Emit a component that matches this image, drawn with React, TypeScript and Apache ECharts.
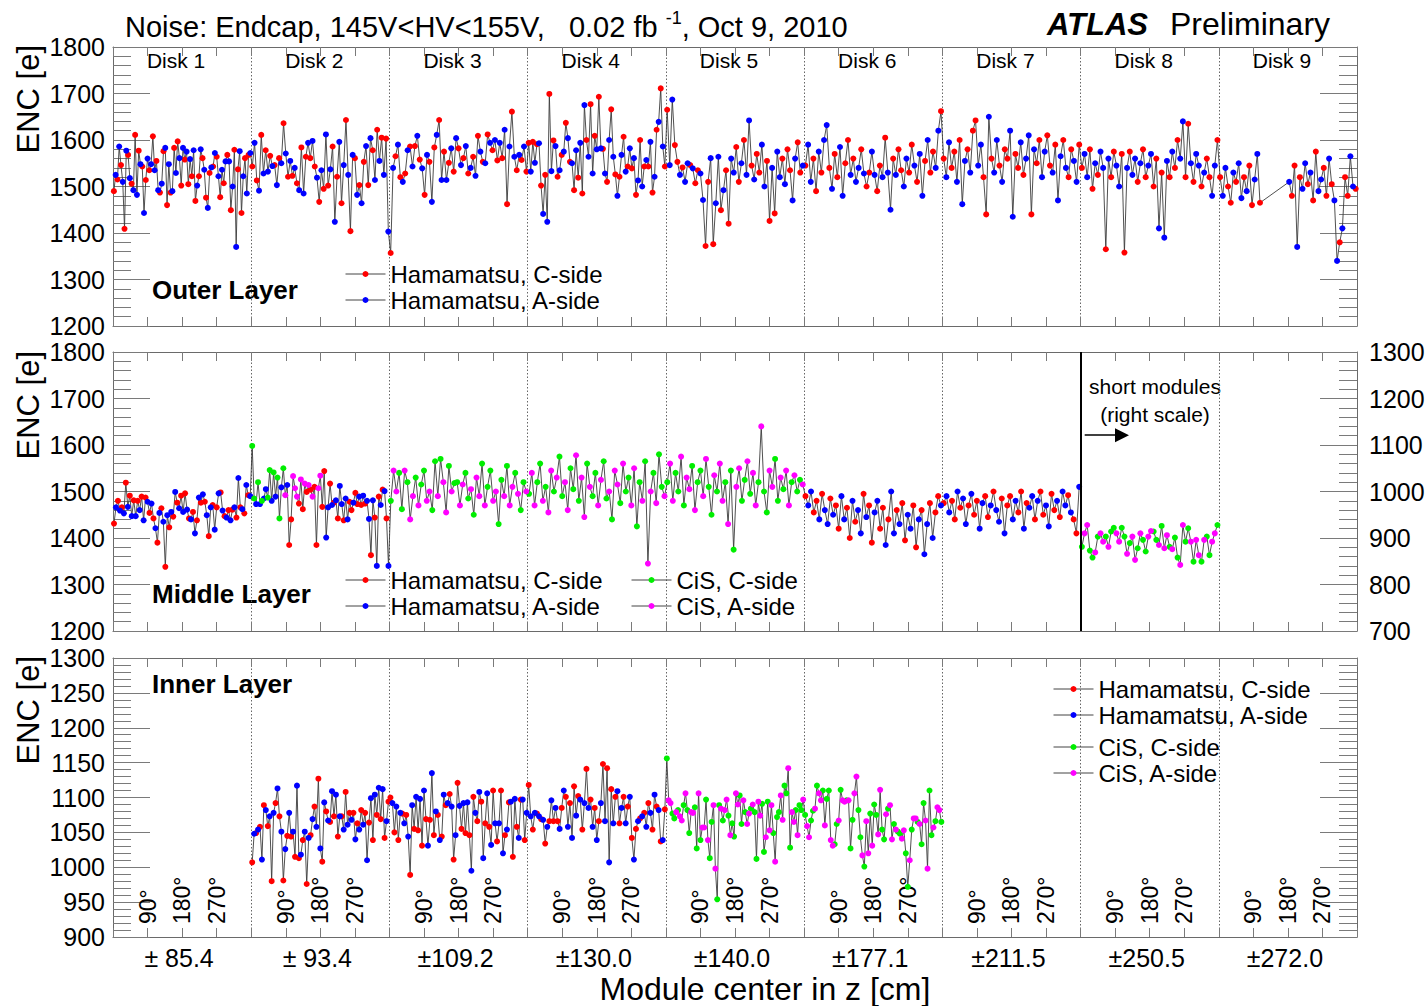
import React, { useEffect, useRef } from "react";
import * as echarts from "echarts";

const FONT = '"Liberation Sans", Arial, Helvetica, sans-serif';

// ---------- labels ----------
const diskNames = ["Disk 1", "Disk 2", "Disk 3", "Disk 4", "Disk 5", "Disk 6", "Disk 7", "Disk 8", "Disk 9"];
const zLabels = ["± 85.4", "± 93.4", "±109.2", "±130.0", "±140.0", "±177.1", "±211.5", "±250.5", "±272.0"];
const angleLabels = ["90°", "180°", "270°"];
const seriesNames: Record<string, string> = {
  r: "Hamamatsu, C-side",
  b: "Hamamatsu, A-side",
  g: "CiS, C-side",
  m: "CiS, A-side",
};

// ---------- Outer layer (ENC, left scale) ----------
const outerDisk1 = [1490,1525,1515,1586,1546,1510,1409,1577,1568,1518,1506,1492,1611,1482,1577,1548,1543,1443,1514,1560,1535,1548,1608,1535,1555,1492,1487,1506,1576,1583,1460,1548,1487,1490,1583,1529,1597,1561,1502,1583,1558,1575,1505,1559,1522,1578,1469,1502,1522,1580,1561,1536,1476,1454,1529,1541,1543,1572,1564,1522,1477,1536,1507,1554,1568,1554,1449,1500,1579,1370,1537,1576,1443,1522,1561,1485,1568,1572];
const outerDisk2 = [1543,1594,1513,1491,1611,1528,1578,1532,1566,1544,1546,1503,1561,1550,1636,1571,1521,1555,1523,1540,1507,1492,1584,1485,1564,1594,1561,1598,1543,1519,1467,1535,1495,1612,1502,1537,1586,1424,1521,1596,1464,1546,1643,1525,1404,1568,1561,1482,1503,1464,1553,1587,1503,1604,1578,1514,1622,1555,1605,1525,1603,1403];
const outerDisk3 = [1357,1540,1565,1590,1520,1510,1528,1578,1586,1543,1587,1609,1558,1539,1482,1568,1553,1467,1584,1611,1643,1514,1575,1514,1551,1582,1532,1604,1582,1546,1561,1587,1528,1540,1564,1523,1609,1575,1553,1550,1612,1594,1578,1600,1556,1594,1561,1622,1462,1586,1661,1564,1535,1568,1557,1586,1532];
const outerDisk4 = [1594,1532,1596,1551,1591,1593,1502,1441,1525,1424,1699,1533,1599,1587,1521,1535,1568,1575,1637,1604,1553,1550,1492,1578,1519,1594,1485,1675,1600,1564,1677,1528,1609,1580,1693,1582,1581,1528,1510,1600,1666,1564,1526,1480,1521,1568,1607,1532,1543,1582,1539,1561,1482,1513,1600,1500,1543,1557,1543,1596,1487,1521,1622,1639,1711,1586,1543];
const outerDisk5 = [1665,1546,1687,1589,1553,1525,1541,1510,1550,1546,1539,1507,1535,1528,1471,1372,1510,1561,1376,1464,1564,1449,1492,1535,1420,1560,1530,1585,1510,1550,1600,1525,1642,1545,1515,1570,1530,1590,1500,1555,1426,1540,1442,1575,1520,1560,1505,1580,1535,1470,1560,1595,1530,1545];
const outerDisk6 = [1545,1590,1510,1560,1490,1575,1530,1600,1632,1540,1495,1570,1520,1585,1480,1550,1600,1525,1560,1510,1540,1580,1528,1500,1530,1575,1525,1490,1545,1520,1605,1530,1450,1560,1525,1580,1535,1500,1560,1530,1590,1545,1510,1570,1480,1555,1600,1530,1575,1540,1620,1662];
const outerDisk7 = [1560,1520,1595,1540,1575,1510,1600,1462,1555,1580,1530,1620,1642,1545,1590,1520,1440,1650,1560,1530,1600,1545,1510,1580,1560,1620,1435,1570,1540,1595,1525,1560,1610,1440,1580,1550,1600,1520,1575,1610,1545,1530,1590,1470,1565,1600,1540,1520,1580,1555,1510,1590];
const outerDisk8 = [1540,1570,1520,1580,1495,1550,1525,1575,1540,1365,1560,1520,1575,1545,1500,1570,1358,1540,1575,1525,1560,1510,1550,1580,1520,1545,1570,1500,1560,1410,1530,1390,1555,1520,1575,1540,1600,1560,1640,1520,1635,1550,1510,1570,1545,1500,1530,1560,1520,1480,1545,1600];
const outerDisk9 = [1520,1480,1540,1500,1465,1530,1510,1550,1475,1520,1490,1545,1460,1515,1570,1465,null,null,null,null,null,null,null,null,null,null,1510,1480,1545,1370,1520,1495,1550,1505,1530,1470,1575,1490,1515,1540,1480,1560,1505,1470,1340,1380,1410,1520,1480,1565,1500,1495];

// ---------- Middle layer ----------
const middleDisk1 = [1431,1466,1480,1459,1466,1453,1519,1467,1491,1447,1481,1447,1480,1460,1489,1438,1487,1478,1454,1474,1442,1421,1390,1454,1464,1435,1338,1449,1423,1456,1446,1499,1476,1464,1491,1456,1496,1461,1442,1440,1456,1410,1438,1487,1476,1494,1478,1449,1404,1466,1471,1418,1466,1496,1498,1459,1447,1444,1460,1438,1461,1466,1444,1529,1466,1462,1453,1514,1492,1490];
const middleDisk2 = [1598,1485,1473,1520,1473,1480,1485,1505,1487,1546,1480,1541,1489,1530,1442,1509,1550,1492,1514,1385,1440,1533,1507,1489,1474,1526,1462,1517,1499,1514,1504,1489,1510,1385,1507,1534,1467,1544,1401,1466,1517,1471,1476,1481,1442,1512,1473,1438,1485,1440,1478,1460,1476,1497,1473,1489,1471,1491,1474,1480,1441,1363,1481,1444,1340,1489,1471,1504,1501,1442,1340];
const middleDisk2Types = "ggbgbgbbgg" + "bgbggbgmbr" + "rmmmrmrmrm" + "rmrrmmrrbb" + "rbrbrbbrbb" + "rrbrrbrbrb" + "brbrbrbrbrb";
const middleDisk3 = [1480,1545,1500,1540,1462,1545,1520,1440,1490,1530,1470,1515,1545,1480,1500,1460,1565,1490,1570,1520,1455,1555,1500,1518,1520,1470,1515,1540,1485,1505,1450,1530,1490,1560,1470,1510,1545,1480,1500,1430,1525,1490,1555,1470,1510,1540,1495,1460,1520,1500];
const middleDisk4 = [1495,1540,1470,1520,1560,1480,1510,1455,1545,1500,1530,1575,1490,1520,1460,1550,1505,1578,1480,1530,1445,1560,1510,1490,1540,1470,1525,1565,1485,1500,1440,1545,1515,1475,1560,1500,1530,1470,1550,1425,1520,1480,1565,1345,1500,1540,1475,1580,1510,1490];
const middleDisk5 = [1520,1560,1480,1540,1500,1575,1470,1530,1505,1555,1460,1520,1545,1490,1570,1510,1450,1535,1500,1560,1480,1520,1430,1545,1375,1510,1550,1480,1525,1565,1495,1540,1470,1520,1640,1500,1455,1545,1510,1570,1480,1530,1505,1545,1470,1520,1535,1500,1525,1515];
const middleDisk6 = [1490,1470,1500,1455,1480,1440,1495,1460,1430,1485,1450,1470,1420,1490,1440,1465,1400,1480,1435,1460,1410,1495,1445,1470,1390,1455,1480,1420,1465,1385,1440,1500,1410,1460,1430,1475,1395,1450,1420,1470,1380,1440,1460,1365,1430,1475,1400,1455,1490,1470];
const middleDisk7 = [1475,1490,1455,1480,1440,1500,1465,1485,1430,1470,1495,1450,1480,1420,1475,1490,1445,1470,1500,1460,1435,1485,1410,1470,1490,1440,1480,1455,1500,1420,1475,1465,1490,1440,1480,1500,1450,1470,1425,1495,1460,1480,1445,1500,1470,1492,1455,1440,1410,1510];
// short modules, right scale
const middleDisk8Short = [881,910,928,873,858,869,903,910,892,903,881,914,922,910,892,922,903,866,889,903,853,878,910,896,871,903,915,914,896,885,926,878,906,881,876,901,858,842,928,892,921,892,849,896,863,849,896,903,863,892,910,928];

// ---------- Inner layer ----------
const innerDisk2 = [1007,1048,1049,1054,1058,1011,1089,1082,1059,1073,980,1078,1092,1113,1073,1051,981,1026,1045,1078,1044,1051,1015,1117,1013,1018,1039,1051,976,1042,1046,1069,1087,1058,1127,1027,1008,1093,1080,1067,1065,1109,1073,1104,1044,1073,1073,1054,1108,1061,1078,1068,1078,1040,1063,1054,1082,1061,1078,1010,1064,1099,1039,1104,1075,1114,1069,1112,1042,1066,1094];
const innerDisk3 = [1100,1092,1050,1087,1039,1078,1077,1063,1075,1044,989,1089,1055,1101,1053,1098,1031,1110,1069,1031,1068,1135,1046,1080,1075,1039,1044,1104,1089,1092,1105,1087,1011,1046,1121,1088,1055,1092,1049,1093,1046,995,1101,1078,1066,1108,1094,1013,1063,1106,1058,1032,1110,1063,1037,1063,1110,1020,1046,1054,1093,1094,1015,1098,1058,1042,1097,1097,1039,1078];
const innerDisk4 = [1118,1073,1054,1078,1077,1073,1069,1068,1034,1058,1066,1096,1066,1085,1066,1055,1085,1110,1101,1058,1092,1042,1116,1074,1102,1097,1054,1092,1141,1085,1097,1058,1085,1039,1066,1092,1148,1066,1142,1007,1112,1063,1101,1109,1063,1085,1101,1063,1087,1101,1042,1011,1055,1066,1070,1073,1078,1058,1092,1078,1054,1104,1087,1082,1037,1039,1083];
const innerDisk5 = [1156,1096,1092,1077,1070,1079,1082,1073,1067,1089,1106,1082,1049,1079,1078,1086,1027,1106,1039,1057,1057,1097,1039,1013,1065,1089,998,954,1089,1084,1067,1082,1097,1074,1046,1063,1044,1106,1090,1103,1062,1096,1079,1062,1077,1084,1090,1079,1012,1094,1074,1091,1022,1043,1094,1053,1089,1049,1008,1072,1079,1103,1068,1117,1106,1142,1028,1079,1065,1082,1046,1089,1082,1097];
const innerDisk6 = [1075,1059,1043,1067,1081,1084,1117,1106,1096,1110,1060,1098,1110,1039,1031,1033,1062,1067,1111,1096,1094,1096,1096,1027,1068,1106,1130,1082,1043,1017,1001,1066,1020,1077,1031,1090,1075,1047,1111,1054,1040,1076,1084,1089,1040,1062,1054,1051,1048,1041,1053,1020,972,1010,1054,1070,1070,1065,1062,1033,1092,1067,998,1110,1046,1057,1066,1086,1082,1065];

type Segment = { disk: number; types: string; values: (number | null)[] };

// side patterns (C/A order along the ring)
const hamPattern = "rbbrrbrbbrbr";
const cisPattern = "gmmggmgmmgmg";

const outerSegments: Segment[] = [
  { disk: 0, types: "rb", values: outerDisk1 },
  { disk: 1, types: "rb", values: outerDisk2 },
  { disk: 2, types: "rb", values: outerDisk3 },
  { disk: 3, types: "rb", values: outerDisk4 },
  { disk: 4, types: hamPattern, values: outerDisk5 },
  { disk: 5, types: hamPattern, values: outerDisk6 },
  { disk: 6, types: hamPattern, values: outerDisk7 },
  { disk: 7, types: hamPattern, values: outerDisk8 },
  { disk: 8, types: hamPattern, values: outerDisk9 },
];
const middleSegments: Segment[] = [
  { disk: 0, types: "rb", values: middleDisk1 },
  { disk: 1, types: middleDisk2Types, values: middleDisk2 },
  { disk: 2, types: cisPattern, values: middleDisk3 },
  { disk: 3, types: cisPattern, values: middleDisk4 },
  { disk: 4, types: cisPattern, values: middleDisk5 },
  { disk: 5, types: hamPattern, values: middleDisk6 },
  { disk: 6, types: hamPattern, values: middleDisk7 },
];
const middleShortSegments: Segment[] = [{ disk: 7, types: cisPattern, values: middleDisk8Short }];
const innerSegments: Segment[] = [
  { disk: 1, types: "rb", values: innerDisk2 },
  { disk: 2, types: "rb", values: innerDisk3 },
  { disk: 3, types: "rb", values: innerDisk4 },
  { disk: 4, types: cisPattern, values: innerDisk5 },
  { disk: 5, types: cisPattern, values: innerDisk6 },
];

// ---------- styles ----------
const markerColors: Record<string, string> = { r: "#ff0000", b: "#0000ff", g: "#00ee00", m: "#ff00ff" };
const FRAME = "#6a6a6a";
const TICK = "#7a7a7a";

function buildSeries(segments: Segment[], xAxisIndex: number, yAxisIndex: number, extra: any = {}) {
  const pts: { x: number; v: number; t: string }[] = [];
  segments.forEach((seg) => {
    const n = seg.values.length;
    seg.values.forEach((v, i) => {
      if (v === null) return;
      pts.push({ x: seg.disk + (i + 0.5) / n, v, t: seg.types[i % seg.types.length] });
    });
  });
  const line: any = {
    type: "line",
    xAxisIndex,
    yAxisIndex,
    data: pts.map((p) => [p.x, p.v]),
    symbol: "none",
    lineStyle: { color: "#3c3c3c", width: 0.9 },
    z: 2,
    silent: true,
    ...extra,
  };
  const colored = ["r", "b", "g", "m"]
    .filter((t) => pts.some((p) => p.t === t))
    .map((t) => ({
      type: "line",
      name: seriesNames[t],
      xAxisIndex,
      yAxisIndex,
      data: pts.filter((p) => p.t === t).map((p) => [p.x, p.v]),
      symbol: "circle",
      symbolSize: 6,
      showSymbol: true,
      itemStyle: { color: markerColors[t], borderWidth: 0 },
      lineStyle: { opacity: 0, width: 1 },
      z: 3,
      silent: true,
    }));
  return [line, ...colored];
}

const plainNumber = (v: number) => String(v);

function yAxis(gridIndex: number, min: number, max: number, interval: number, position: string, showLabels: boolean, margin = 8) {
  return {
    type: "value",
    gridIndex,
    min,
    max,
    interval,
    position,
    axisLine: { show: true, onZero: false, lineStyle: { color: FRAME, width: 1 } },
    axisTick: { show: true, inside: true, length: 37, lineStyle: { color: TICK, width: 1 } },
    minorTick: { show: true, splitNumber: 5, length: 18, lineStyle: { color: TICK, width: 1 } },
    splitLine: { show: false },
    minorSplitLine: { show: false },
    axisLabel: { show: showLabels, color: "#000", fontSize: 25, fontFamily: FONT, margin, formatter: plainNumber },
  };
}

function xValueAxis(gridIndex: number, position: string, label: any = { show: false }) {
  return {
    type: "value",
    gridIndex,
    min: 0,
    max: 9,
    interval: 0.25,
    position,
    axisLine: { show: true, onZero: false, lineStyle: { color: FRAME, width: 1 } },
    axisTick: { show: true, inside: true, length: 9, lineStyle: { color: TICK, width: 1 } },
    splitLine: { show: false },
    axisLabel: label,
  };
}

function xCategoryAxis(gridIndex: number, position: string, data: string[], label: any) {
  return {
    type: "category",
    gridIndex,
    data,
    position,
    boundaryGap: true,
    axisLine: { show: false, onZero: false },
    axisTick: { show: false },
    splitLine: { show: true, interval: 0, lineStyle: { color: "#666", width: 1, type: [1.5, 2] } },
    axisLabel: label,
  };
}

function ylabelText(y: number) {
  return {
    type: "text",
    x: 28,
    y,
    rotation: Math.PI / 2,
    style: { text: "ENC [e]", fontSize: 31, fontFamily: FONT, fill: "#000", align: "right", verticalAlign: "middle" },
  };
}

function plainText(x: number, y: number, text: string, fontSize: number, extra: any = {}) {
  return {
    type: "text",
    x,
    y,
    style: { text, fontSize, fontFamily: FONT, fill: "#000", align: "left", verticalAlign: "middle", ...extra },
  };
}

const legendBase = {
  orient: "vertical",
  selectedMode: false,
  itemWidth: 40,
  itemHeight: 7.5,
  itemGap: 2,
  padding: 0,
  textStyle: { fontSize: 24, fontFamily: FONT, color: "#000" },
  lineStyle: { color: "#444", width: 1, opacity: 1, type: "solid" },
};

export default function App() {
  const ref = useRef<HTMLDivElement>(null);
  useEffect(() => {
    document.body.style.margin = "0";
    if (!ref.current) return;
    const chart = echarts.init(ref.current, null, { renderer: "svg" });
    const grids = [
      { left: 113, top: 47, width: 1244, height: 279, outerBoundsMode: "none" },
      { left: 113, top: 352, width: 1244, height: 279, outerBoundsMode: "none" },
      { left: 113, top: 658, width: 1244, height: 279, outerBoundsMode: "none" },
    ];
    const xAxes = [
      xValueAxis(0, "bottom"),
      xValueAxis(0, "top"),
      xCategoryAxis(0, "top", diskNames, {
        show: true,
        inside: true,
        interval: 0,
        margin: 3,
        fontSize: 21,
        fontFamily: FONT,
        color: "#000",
        padding: [0, 12, 0, 0],
      }),
      xValueAxis(1, "bottom"),
      xValueAxis(1, "top"),
      xCategoryAxis(1, "top", diskNames, { show: false }),
      xValueAxis(2, "bottom", {
        show: true,
        inside: true,
        rotate: 90,
        margin: 13,
        fontSize: 23,
        fontFamily: FONT,
        color: "#000",
        padding: [0, 0, 10, 0],
        formatter: (v: number) => {
          const q = Math.round((v - Math.floor(v)) * 4);
          return q >= 1 && q <= 3 ? angleLabels[q - 1] : "";
        },
      }),
      xValueAxis(2, "top"),
      xCategoryAxis(2, "bottom", zLabels, {
        show: true,
        interval: 0,
        margin: 8,
        fontSize: 25,
        fontFamily: FONT,
        color: "#000",
        padding: [0, 6, 0, 0],
      }),
    ];
    const yAxes = [
      yAxis(0, 1200, 1800, 100, "left", true),
      yAxis(0, 1200, 1800, 100, "right", false),
      yAxis(1, 1200, 1800, 100, "left", true),
      yAxis(1, 700, 1300, 100, "right", true, 12),
      yAxis(2, 900, 1300, 50, "left", true),
      yAxis(2, 900, 1300, 50, "right", false),
    ];

    const series = [
      ...buildSeries(outerSegments, 0, 0),
      ...buildSeries(middleSegments, 3, 2, {
        markLine: {
          silent: true,
          symbol: ["none", "none"],
          label: { show: false },
          data: [
            { xAxis: 7, lineStyle: { color: "#000", width: 2, type: "solid" } },
            [
              { coord: [7.03, 1621], symbol: "none", lineStyle: { color: "#000", width: 1.5, type: "solid" } },
              { coord: [7.3, 1621], symbol: "triangle", symbolSize: 14 },
            ],
          ],
        },
      }),
      ...buildSeries(middleShortSegments, 3, 3),
      ...buildSeries(innerSegments, 6, 4),
    ];

    const graphic = [
      {
        type: "text",
        x: 125,
        y: 25,
        style: {
          text: "{n|Noise: Endcap, 145V<HV<155V,   0.02 fb }{s|-1}{n|, Oct 9, 2010}",
          fontFamily: FONT,
          fill: "#000",
          align: "left",
          verticalAlign: "middle",
          rich: {
            n: { fontSize: 29, fontFamily: FONT, fill: "#000", verticalAlign: "bottom", lineHeight: 32 },
            s: { fontSize: 18, fontFamily: FONT, fill: "#000", verticalAlign: "top", lineHeight: 32 },
          },
        },
      },
      plainText(1047, 24, "ATLAS", 31, { fontWeight: "bold", fontStyle: "italic" }),
      plainText(1170, 24, "Preliminary", 32),
      ylabelText(45),
      ylabelText(351),
      ylabelText(656),
      plainText(152, 290, "Outer Layer", 26, { fontWeight: "bold" }),
      plainText(152, 594, "Middle Layer", 26, { fontWeight: "bold" }),
      plainText(152, 684, "Inner Layer", 26, { fontWeight: "bold" }),
      plainText(1155, 386, "short modules", 21, { align: "center" }),
      plainText(1155, 414, "(right scale)", 21, { align: "center" }),
      plainText(765, 989, "Module center in z [cm]", 32, { align: "center" }),
    ];

    const legend = [
      { ...legendBase, left: 345, top: 262, data: [seriesNames.r, seriesNames.b] },
      { ...legendBase, left: 345, top: 568, data: [seriesNames.r, seriesNames.b] },
      { ...legendBase, left: 631, top: 568, data: [seriesNames.g, seriesNames.m] },
      { ...legendBase, left: 1053, top: 677, data: [seriesNames.r, seriesNames.b] },
      { ...legendBase, left: 1053, top: 735, data: [seriesNames.g, seriesNames.m] },
    ];

    chart.setOption({
      animation: false,
      backgroundColor: "#ffffff",
      textStyle: { fontFamily: FONT },
      grid: grids,
      xAxis: xAxes,
      yAxis: yAxes,
      legend,
      series,
      graphic,
    });
    return () => chart.dispose();
  }, []);
  return <div ref={ref} style={{ width: 1426, height: 1006 }} />;
}
